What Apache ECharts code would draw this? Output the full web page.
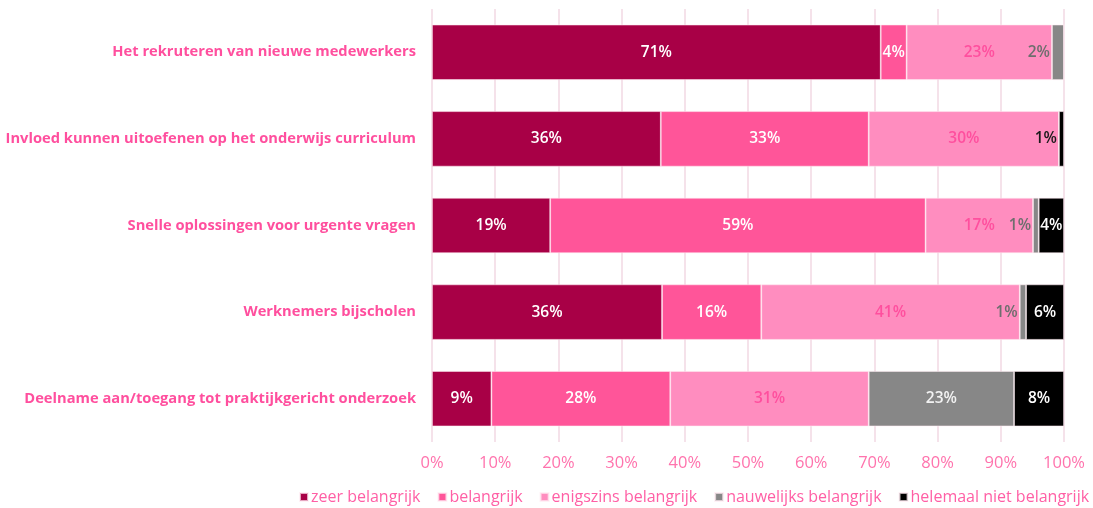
<!DOCTYPE html>
<html>
<head>
<meta charset="utf-8">
<script src="https://cdn.jsdelivr.net/npm/echarts@6/dist/echarts.min.js"></script>
<style>
  html, body { margin: 0; padding: 0; background: #ffffff; }
  #chart { width: 1093px; height: 508px; }
</style>
</head>
<body>
<div id="chart"></div>
<script>
// Categories, top to bottom
const categories = [
  'Het rekruteren van nieuwe medewerkers',
  'Invloed kunnen uitoefenen op het onderwijs curriculum',
  'Snelle oplossingen voor urgente vragen',
  'Werknemers bijscholen',
  'Deelname aan/toegang tot praktijkgericht onderzoek'
];

// Share of respondents (%) per answer, in category order
const zeerBelangrijk       = [71.0, 36.2, 18.7, 36.4, 9.4];
const belangrijk           = [4.1, 32.9, 59.4, 15.7, 28.3];
const enigszinsBelangrijk  = [23.0, 30.1, 17.0, 40.9, 31.4];
const nauwelijksBelangrijk = [1.9, 0, 0.9, 1.0, 23.0];
const helemaalNiet         = [0, 0.8, 4.0, 6.0, 7.9];

const seriesNames = ['zeer belangrijk', 'belangrijk', 'enigszins belangrijk', 'nauwelijks belangrijk', 'helemaal niet belangrijk'];
const seriesValues = [zeerBelangrijk, belangrijk, enigszinsBelangrijk, nauwelijksBelangrijk, helemaalNiet];
const seriesColors = ['#a80046', '#ff5599', '#ff8dbf', '#878787', '#000000'];

const pink = '#ff4f9e';
const FONT = 'Open Sans';

// Label colour per segment; tiny segments get their label set to the left
function labelStyle(si, v) {
  const small = v < 2.5;
  let color;
  if (si === 0 || si === 1) color = '#ffffff';
  else if (si === 2) color = pink;
  else if (si === 3) color = small ? '#6e6e6e' : '#f2f2f2';
  else color = small ? '#1a1a1a' : '#ffffff';
  return {
    show: v > 0,
    color: color,
    position: small ? 'left' : 'inside',
    distance: 2
  };
}

const series = seriesValues.map((vals, si) => ({
  name: seriesNames[si],
  type: 'bar',
  stack: 'total',
  barCategoryGap: '36%',
  itemStyle: { color: seriesColors[si], borderColor: 'rgba(255,235,242,0.7)', borderWidth: 0.8 },
  label: {
    fontFamily: FONT,
    fontSize: 15.5,
    fontWeight: 600,
    formatter: p => Math.round(p.value) + '%'
  },
  data: vals.map(v => ({ value: v, label: labelStyle(si, v) }))
}));

const chart = echarts.init(document.getElementById('chart'), null, { renderer: 'canvas' });
chart.setOption({
  animation: false,
  backgroundColor: '#ffffff',
  textStyle: { fontFamily: FONT },
  grid: { left: 432, right: 29, top: 9, bottom: 66, containLabel: false },
  legend: {
    bottom: -2,
    left: 294,
    width: 1000,
    itemWidth: 8,
    itemHeight: 8,
    itemGap: 17,
    icon: 'rect',
    textStyle: { color: '#ff5fa5', fontSize: 16, fontFamily: FONT, padding: [0, 0, 0, -2] },
    data: seriesNames
  },
  xAxis: {
    type: 'value',
    min: 0,
    max: 100,
    interval: 10,
    axisLine: { show: false },
    axisTick: { show: false },
    splitLine: { show: true, lineStyle: { color: '#f2d9e3', width: 1.5 } },
    axisLabel: {
      color: '#ff73ad',
      fontSize: 16.5,
      fontFamily: FONT,
      margin: 13,
      formatter: v => v + '%'
    }
  },
  yAxis: {
    type: 'category',
    data: categories,
    inverse: true,
    axisLine: { show: false },
    axisTick: { show: false },
    axisLabel: {
      color: pink,
      fontSize: 14.7,
      fontWeight: 'bold',
      fontFamily: FONT,
      margin: 16
    }
  },
  series: series
});
</script>
</body>
</html>
